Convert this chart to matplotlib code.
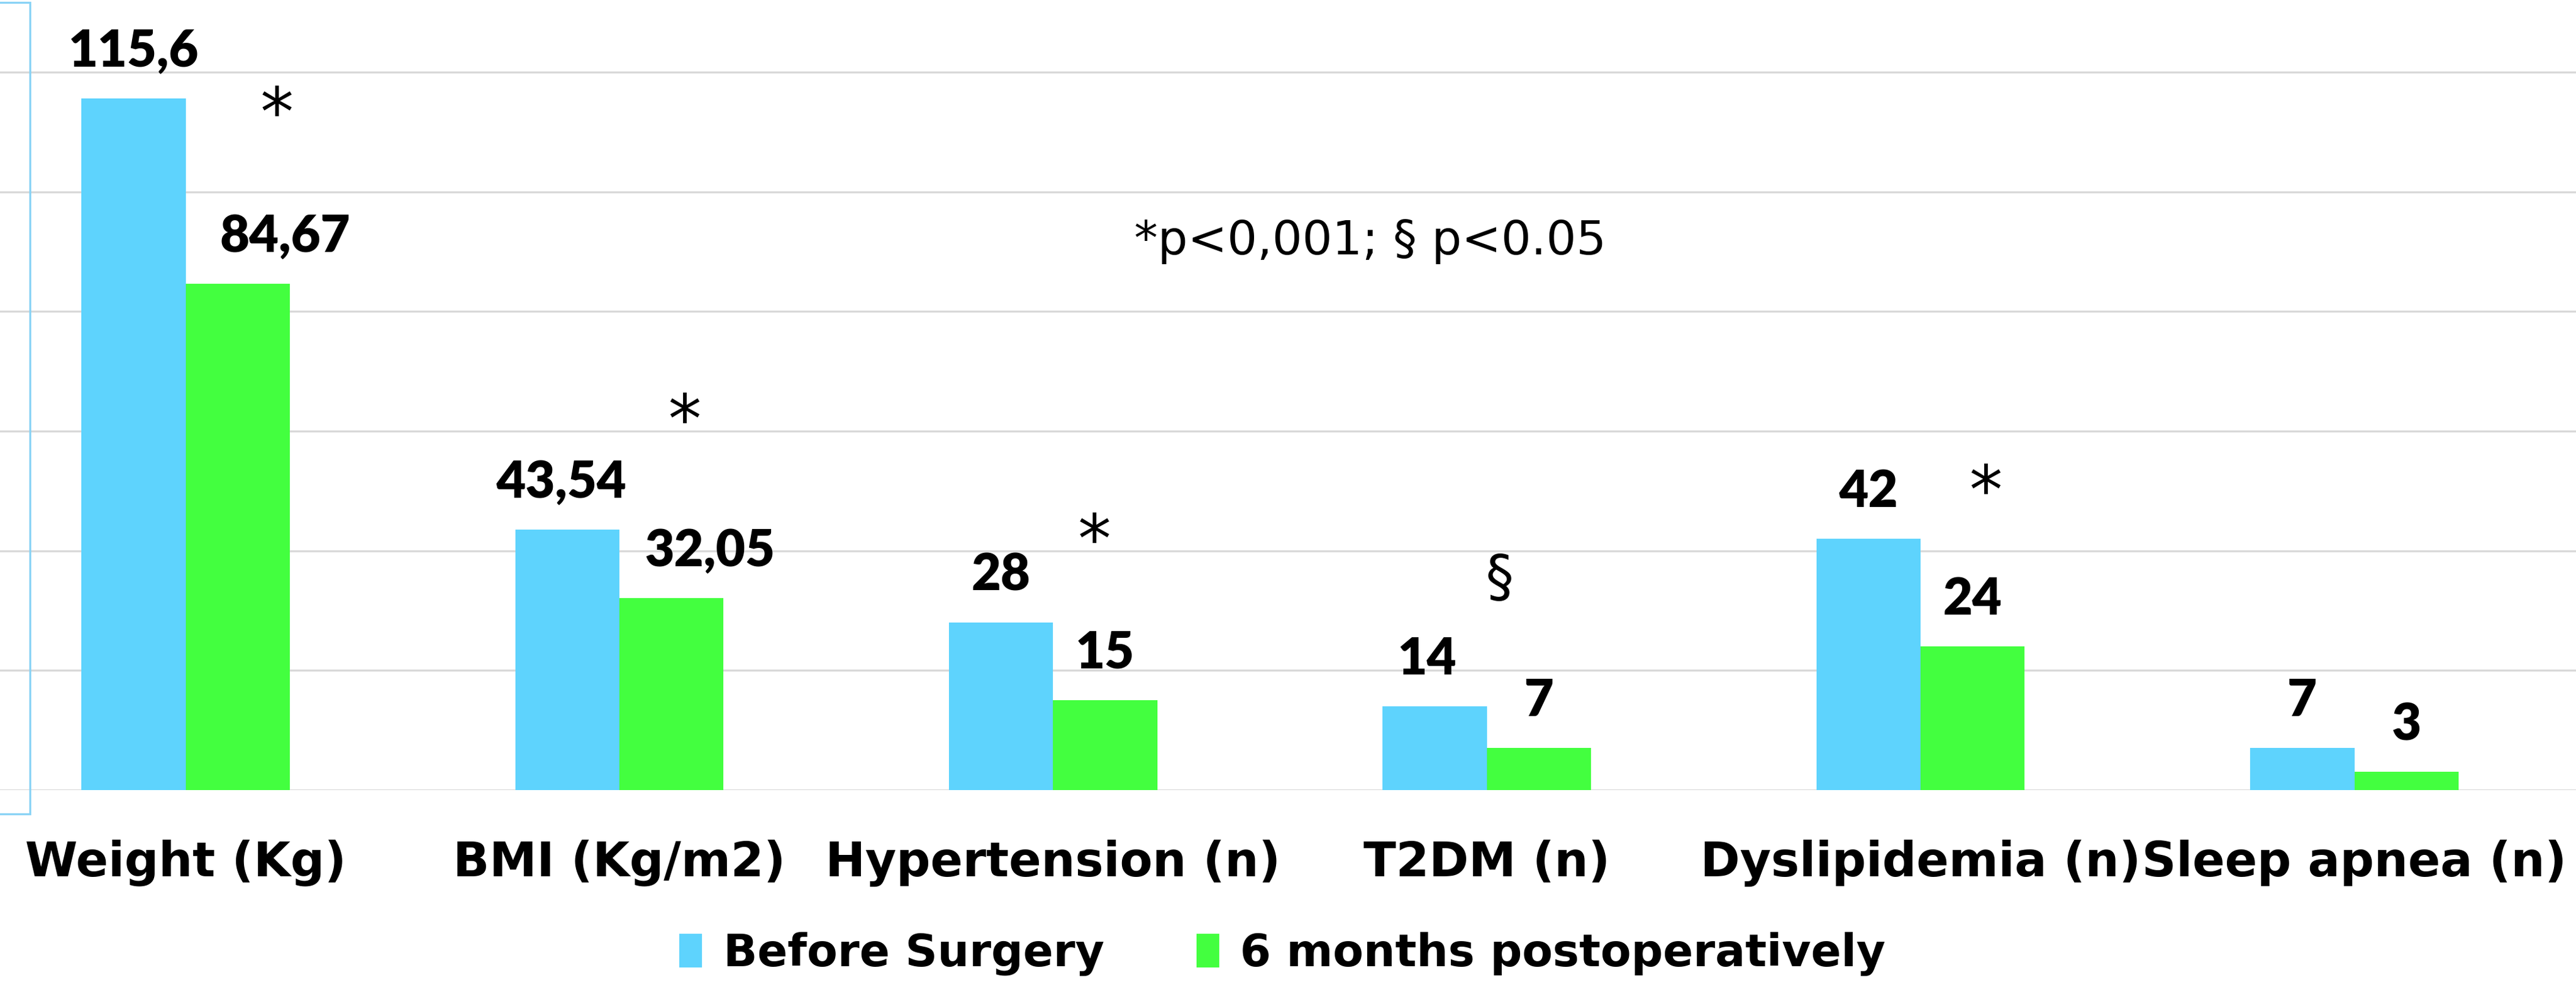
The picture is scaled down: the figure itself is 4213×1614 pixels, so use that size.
import matplotlib
matplotlib.use("Agg")
import matplotlib.pyplot as plt
from matplotlib.patches import Patch, Rectangle
import numpy as np

categories = ["Weight (Kg)", "BMI (Kg/m2)", "Hypertension (n)", "T2DM (n)",
              "Dyslipidemia (n)", "Sleep apnea (n)"]
before = [115.6, 43.54, 28, 14, 42, 7]
after = [84.67, 32.05, 15, 7, 24, 3]
before_labels = ["115,6", "43,54", "28", "14", "42", "7"]
after_labels = ["84,67", "32,05", "15", "7", "24", "3"]
sig_marks = ["*", "*", "*", "§", "*", ""]
series_names = ["Before Surgery", "6 months postoperatively"]
note_text = "*p<0,001; § p<0.05"

BLUE = "#5ED3FD"
GREEN = "#43FF3F"
GRID = "#D9D9D9"
FONT = "DejaVu Sans"

W, H, DPI = 4213, 1614, 300
fig = plt.figure(figsize=(W / DPI, H / DPI), dpi=DPI)
ax = fig.add_axes([0.0, 0.1997, 1.0, 0.8003])

x = np.arange(len(categories))
bw = 0.24
ax.bar(x - bw / 2, before, width=bw, color=BLUE, zorder=3)
ax.bar(x + bw / 2, after, width=bw, color=GREEN, zorder=3)

ax.set_xlim(-0.428, 5.511)
ax.set_ylim(0, 132.1)
ax.set_yticks(np.arange(0, 121, 20))
ax.yaxis.grid(True, color=GRID, linewidth=0.8, zorder=0)
ax.set_axisbelow(True)
for s in ax.spines.values():
    s.set_visible(False)
ax.tick_params(axis="y", left=False, labelleft=False)
ax.tick_params(axis="x", bottom=False, pad=16)
ax.set_xticks(x)
ax.set_xticklabels(categories, fontsize=18.7, fontweight="bold", family=FONT)

lab_font = dict(fontsize=20, fontweight="heavy", family="Lato", color="black")
before_dx = [0, -2.5, 0, -3, 0, 0]
after_dx = [18.5, 15, 0, 0, 0, 0]
for i in range(len(categories)):
    ax.annotate(before_labels[i], xy=(x[i] - bw / 2, before[i]),
                xytext=(before_dx[i], 12.5), textcoords="offset points",
                ha="center", va="baseline", **lab_font)
    ax.annotate(after_labels[i], xy=(x[i] + bw / 2, after[i]),
                xytext=(after_dx[i], 12.5), textcoords="offset points",
                ha="center", va="baseline", **lab_font)

sig_dx = [0.21, 0.15, 0.095, 0.03, 0.15, 0]
sig_y = [115.6, 64.3, 44.2, 35.1, 52.4, 0]
for i, m in enumerate(sig_marks):
    if m == "*":
        ax.annotate(m, xy=(x[i] + sig_dx[i], sig_y[i]), xytext=(0, -0.55 * 26),
                    textcoords="offset points", ha="center", va="baseline",
                    fontsize=26, family=FONT, color="black")
    elif m:
        ax.text(x[i] + sig_dx[i], sig_y[i], m, ha="center", va="center",
                fontsize=22, family=FONT, color="black")

fig.text(834 / 1568, 1 - 147 / 601, note_text, ha="center", va="center",
         fontsize=18.5, family=FONT, color="black")

handles = [Patch(color=BLUE), Patch(color=GREEN)]
fig.legend(handles, series_names, loc="center", bbox_to_anchor=(781 / 1568, 1 - 581 / 601),
           ncol=2, frameon=False, prop=dict(family=FONT, weight="bold", size=17.5),
           handlelength=0.45, handleheight=0.7, handletextpad=0.5, columnspacing=2.1)

fig.add_artist(Rectangle((-0.01, 1 - 1331 / H), 0.01 + 49 / W, (1331 - 4) / H,
                         transform=fig.transFigure, fill=False,
                         edgecolor="#8AD3F5", linewidth=0.8))

fig.savefig("out.png", dpi=DPI)
